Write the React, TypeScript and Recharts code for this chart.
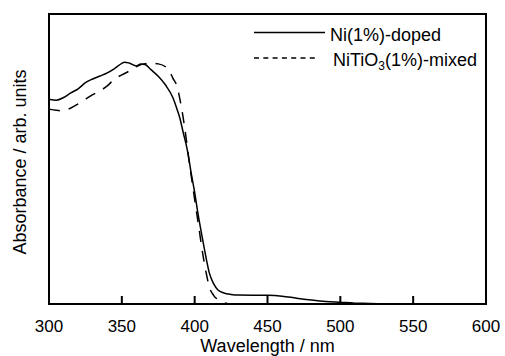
import React from 'react';
import { LineChart, Line, XAxis, YAxis, Legend } from 'recharts';

// Ni(1%)-doped (solid)
const dopedWavelengths = [300, 305, 310, 315, 320, 325, 330, 335, 340, 345, 350, 352, 355, 360, 363, 366, 370, 375, 380, 385, 388, 390, 392, 395, 398, 400, 402, 405, 408, 410, 413, 416, 420, 425, 430, 450, 460, 470, 480, 490, 500, 510, 520, 532];
const dopedValues = [0.706, 0.703, 0.712, 0.728, 0.742, 0.763, 0.776, 0.786, 0.797, 0.812, 0.83, 0.834, 0.831, 0.821, 0.828, 0.826, 0.808, 0.785, 0.755, 0.712, 0.67, 0.638, 0.594, 0.53, 0.44, 0.385, 0.32, 0.235, 0.155, 0.108, 0.07, 0.048, 0.038, 0.033, 0.031, 0.03, 0.027, 0.02, 0.014, 0.009, 0.006, 0.003, 0.002, 0.0];

// NiTiO3(1%)-mixed (dashed)
const mixedWavelengths = [300, 305, 310, 315, 320, 325, 330, 335, 340, 345, 350, 355, 360, 365, 370, 375, 380, 383, 385, 388, 390, 392, 394, 396, 398, 400, 403, 405, 408, 410, 413, 416, 420, 425, 440, 460];
const mixedValues = [0.672, 0.668, 0.666, 0.676, 0.69, 0.706, 0.722, 0.735, 0.752, 0.776, 0.79, 0.803, 0.818, 0.828, 0.83, 0.828, 0.818, 0.8, 0.779, 0.749, 0.703, 0.646, 0.577, 0.5, 0.43, 0.36, 0.26, 0.19, 0.105, 0.06, 0.03, 0.015, 0.005, 0.0, 0.0, 0.0];

const xTicks = [300, 350, 400, 450, 500, 550, 600];
const xDomain = [300, 600];
const seriesNames = ['Ni(1%)-doped', 'NiTiO3(1%)-mixed'];

const dopedData = dopedWavelengths.map((x, i) => ({ x, y: dopedValues[i] }));
const mixedData = mixedWavelengths.map((x, i) => ({ x, y: mixedValues[i] }));

const FONT = '"Liberation Sans", Arial, Helvetica, sans-serif';

// layout shared by the chart and the frame overlay
const CHART_W = 505;
const CHART_H = 356;
const MARGIN = { top: 14, right: 19, bottom: 0, left: 0 };
const Y_AXIS_W = 49;
const X_AXIS_H = 52;
const PLOT_L = MARGIN.left + Y_AXIS_W;
const PLOT_R = CHART_W - MARGIN.right;
const PLOT_T = MARGIN.top;
const PLOT_B = CHART_H - MARGIN.bottom - X_AXIS_H;
const TICK_LEN = 8;
const xToPx = (v: number) => PLOT_L + ((v - xDomain[0]) / (xDomain[1] - xDomain[0])) * (PLOT_R - PLOT_L);

const LegendContent = () => (
  <svg width={CHART_W} height={CHART_H} style={{ display: 'block', pointerEvents: 'none' }}>
    {/* plot frame and inward ticks */}
    <rect x={PLOT_L} y={PLOT_T} width={PLOT_R - PLOT_L} height={PLOT_B - PLOT_T} fill="none" stroke="#000" strokeWidth={2} />
    {xTicks.slice(1, -1).map((t) => (
      <line key={t} x1={xToPx(t)} x2={xToPx(t)} y1={PLOT_B} y2={PLOT_B - TICK_LEN} stroke="#000" strokeWidth={2} />
    ))}
    {/* legend */}
    <line x1={254} x2={325} y1={32.5} y2={32.5} stroke="#000" strokeWidth={1.3} />
    <text x={330} y={41} fontSize={18} fontFamily={FONT} fill="#000">{seriesNames[0]}</text>
    <line x1={254} x2={317} y1={58} y2={58} stroke="#000" strokeWidth={1.3} strokeDasharray="5 4.3" />
    <text x={333} y={65.5} fontSize={18} fontFamily={FONT} fill="#000">
      NiTiO<tspan fontSize={12} dy={4}>3</tspan><tspan dy={-4}>(1%)-mixed</tspan>
    </text>
  </svg>
);

const YLabel = (props: any) => {
  const vb = props.viewBox || { x: 0, y: 14, width: 49, height: 290 };
  const cx = vb.x + 20;
  const cy = vb.y + vb.height / 2 + 3;
  return (
    <text x={cx} y={cy} transform={`rotate(-90, ${cx}, ${cy})`} textAnchor="middle" dominantBaseline="central" fontSize={18} fontFamily={FONT} fill="#000">
      Absorbance / arb. units
    </text>
  );
};

export default function App() {
  return (
    <div style={{ position: 'absolute', left: 0, top: 0, fontFamily: FONT, background: '#fff' }}>
      <LineChart width={CHART_W} height={CHART_H} margin={MARGIN}>
        <XAxis
          type="number"
          dataKey="x"
          domain={xDomain}
          ticks={xTicks}
          height={X_AXIS_H}
          tickSize={0}
          tickMargin={16}
          tick={{ fill: '#000', fontSize: 17, fontFamily: FONT }}
          tickLine={false}
          axisLine={{ stroke: '#000', strokeWidth: 2 }}
          label={{ value: 'Wavelength / nm', position: 'insideBottom', offset: 4, fontSize: 18, fill: '#000', fontFamily: FONT }}
        />
        <YAxis
          type="number"
          domain={[0, 1]}
          width={Y_AXIS_W}
          tick={false}
          tickLine={false}
          axisLine={{ stroke: '#000', strokeWidth: 2 }}
          label={{ content: YLabel }}
        />
        <Legend
          layout="vertical"
          align="center"
          verticalAlign="middle"
          content={LegendContent}
          wrapperStyle={{ left: 0, top: 0, width: CHART_W, height: CHART_H, pointerEvents: 'none' }}
        />
        <Line data={dopedData} dataKey="y" name={seriesNames[0]} type="monotone" stroke="#000" strokeWidth={1.5} dot={false} isAnimationActive={false} />
        <Line data={mixedData} dataKey="y" name={seriesNames[1]} type="monotone" stroke="#000" strokeWidth={1.5} strokeDasharray="11 9" dot={false} isAnimationActive={false} />
      </LineChart>
    </div>
  );
}
